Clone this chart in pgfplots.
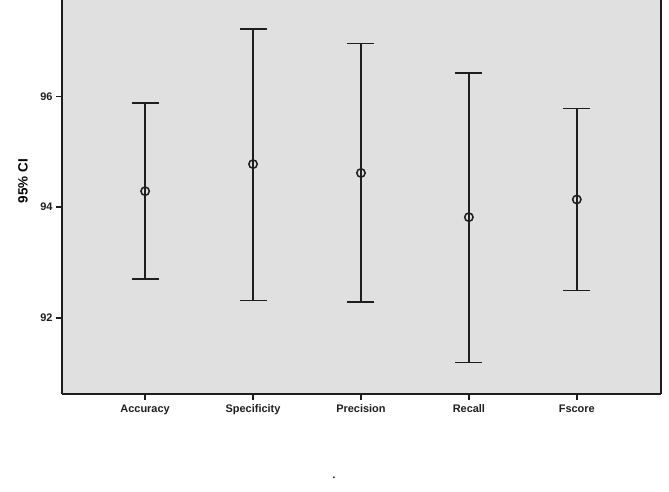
\documentclass[border=0pt]{standalone}
\usepackage{pgfplots}
\pgfplotsset{compat=1.18}
\usepackage{pgfplotstable}
\usepackage{fontspec}
\setmainfont{Liberation Sans}
\definecolor{panel}{RGB}{224,224,224}
\definecolor{ink}{RGB}{30,30,30}
\pgfplotstableread{
x m lo hi
0 94.29 92.70 95.89
1 94.78 92.31 97.23
2 94.62 92.29 96.96
3 93.82 91.19 96.43
4 94.14 92.49 95.79
}\ci
\begin{document}
\begin{tikzpicture}
\begin{axis}[
  name=ax,
  scale only axis,
  width=599bp, height=394bp,
  xmin=-0.77, xmax=4.78,
  ymin=90.62, ymax=97.75,
  separate axis lines,
  axis x line*=bottom,
  axis y line*=box,
  axis line style={ink, line width=1.6bp},
  axis background/.style={fill=panel},
  xtick={0,1,2,3,4},
  xticklabels={Accuracy,Specificity,Precision,Recall,Fscore},
  ytick={92,94,96},
  xtick pos=bottom, ytick pos=left,
  tick align=outside,
  major tick length=6bp,
  tick style={ink, line width=1.6bp},
  /pgf/number format/assume math mode=true,
  ticklabel style={font=\bfseries\fontsize{11}{13}\selectfont, text=ink},
  xticklabel style={yshift=-1bp},
  ylabel={95\% CI},
  every axis y label/.style={at={(rel axis cs:0,0.54)}, rotate=90, anchor=center, yshift=39bp, font=\bfseries\fontsize{13.5}{15}\selectfont},
  clip=false,
]
\addplot[ink, line width=1.5bp, mark=o, mark size=4.2bp,
  mark options={fill=panel, line width=1.5bp},
  only marks,
  error bars/.cd, y dir=both, y explicit,
  error mark=|, error mark options={mark size=13.5bp, line width=1.6bp, ink},
  error bar style={line width=1.5bp, ink}]
  table[x=x, y=m, y error plus expr=\thisrow{hi}-\thisrow{m}, y error minus expr=\thisrow{m}-\thisrow{lo}] {\ci};
\end{axis}
\node[font=\bfseries\fontsize{10}{12}\selectfont] at ([shift={(272bp,-84bp)}]ax.south west) {.};
\pgfresetboundingbox
\path ([shift={(-62bp,-98bp)}]ax.south west) rectangle ([shift={(8bp,0bp)}]ax.north east);
\end{tikzpicture}
\end{document}
